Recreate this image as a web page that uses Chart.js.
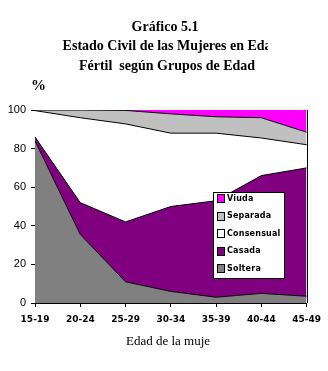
<!DOCTYPE html>
<html>
<head>
<meta charset="utf-8">
<script src="https://cdn.jsdelivr.net/npm/chart.js@4.4.1/dist/chart.umd.min.js"></script>
<style>
  html, body { margin: 0; padding: 0; background: #fff; }
  #wrap { width: 328px; height: 371px; position: relative; }
</style>
</head>
<body>
<div id="wrap"><canvas id="c" width="328" height="371"></canvas></div>
<script>
// Age groups (x categories)
const ageGroups = ['15-19', '20-24', '25-29', '30-34', '35-39', '40-44', '45-49'];

// Marital status shares, percent of women in each age group
const soltera    = [84.0, 35.5, 11.0,  6.0,  3.0,  5.0,  3.5];
const casada     = [ 2.0, 16.5, 31.0, 44.0, 50.0, 61.0, 66.5];
const consensual = [13.7, 44.0, 50.8, 38.0, 35.0, 19.5, 12.0];
const separada   = [ 0.3,  4.0,  7.0, 10.0,  8.5, 10.5,  6.5];
const viuda      = [ 0.0,  0.0,  0.2,  2.0,  3.5,  4.0, 11.5];

const yTicks = [0, 20, 40, 60, 80, 100];

const titleLines = ['Gráfico 5.1', 'Estado Civil de las Mujeres en Edad', 'Fértil  según Grupos de Edad'];
const yUnit = '%';
const xTitle = 'Edad de la muje';

const series = [
  { label: 'Soltera',    data: soltera,    color: '#808080', line: '#000000' },
  { label: 'Casada',     data: casada,     color: '#800080', line: '#000000' },
  { label: 'Consensual', data: consensual, color: '#ffffff', line: '#000000' },
  { label: 'Separada',   data: separada,   color: '#c0c0c0', line: '#000000' },
  { label: 'Viuda',      data: viuda,      color: '#ff00ff', line: '#ff00ff' }
];

// Titles, axis caption, right frame edge and the boxed legend
const decorations = {
  id: 'decorations',
  afterDraw(chart) {
    const ctx = chart.ctx;
    const area = chart.chartArea;
    ctx.save();

    // right edge of the plot frame
    ctx.strokeStyle = '#000';
    ctx.lineWidth = 1;
    ctx.beginPath();
    ctx.moveTo(Math.round(area.right) + 0.5, area.top);
    ctx.lineTo(Math.round(area.right) + 0.5, area.bottom);
    ctx.stroke();

    // title block, clipped on the right
    ctx.save();
    ctx.beginPath();
    ctx.rect(0, 0, 268, 100);
    ctx.clip();
    ctx.fillStyle = '#000';
    ctx.font = 'bold 14px "Liberation Serif", serif';
    ctx.textAlign = 'center';
    ctx.textBaseline = 'alphabetic';
    ctx.fillText(titleLines[0], 165, 31);
    ctx.fillText(titleLines[1], 171, 50);
    ctx.fillText(titleLines[2], 167, 70);
    ctx.restore();

    // unit label
    ctx.fillStyle = '#000';
    ctx.font = 'bold 15px "Liberation Serif", serif';
    ctx.textAlign = 'left';
    ctx.textBaseline = 'alphabetic';
    ctx.fillText(yUnit, 31, 90);

    // x axis caption
    ctx.font = '13px "Liberation Serif", serif';
    ctx.textAlign = 'center';
    ctx.fillText(xTitle, 168, 345);

    // legend box
    const lx = 213, ly = 192, lw = 71, lh = 86;
    ctx.fillStyle = '#fff';
    ctx.fillRect(lx, ly, lw, lh);
    ctx.strokeStyle = '#000';
    ctx.strokeRect(lx + 0.5, ly + 0.5, lw, lh);
    ctx.font = 'bold 8px "DejaVu Sans", sans-serif';
    ctx.letterSpacing = '0.2px';
    ctx.textAlign = 'left';
    ctx.textBaseline = 'middle';
    const items = chart.data.datasets.slice().reverse();
    items.forEach((ds, i) => {
      const cy = ly + 6.5 + i * 17.5;
      const top = Math.round(cy - 3.5);
      ctx.fillStyle = ds.backgroundColor;
      ctx.fillRect(lx + 5, top, 6, 7);
      ctx.strokeStyle = '#000';
      ctx.strokeRect(lx + 4.5, top - 0.5, 7, 8);
      ctx.fillStyle = '#000';
      ctx.fillText(ds.label, lx + 14, cy);
    });
    ctx.restore();
  }
};

const datasets = series.map((s, i) => ({
  label: s.label,
  data: s.data,
  backgroundColor: s.color,
  borderColor: s.line,
  borderWidth: 1,
  pointRadius: 0,
  tension: 0,
  fill: i === 0 ? 'origin' : '-1'
}));

new Chart(document.getElementById('c'), {
  type: 'line',
  data: { labels: ageGroups, datasets },
  options: {
    responsive: false,
    animation: false,
    devicePixelRatio: 1,
    layout: { padding: { top: 110, right: 20, left: 0, bottom: 0 } },
    plugins: {
      legend: { display: false },
      title: { display: false },
      tooltip: { enabled: false }
    },
    scales: {
      x: {
        offset: false,
        grid: { drawOnChartArea: false, drawTicks: true, tickLength: 4, color: '#000' },
        border: { color: '#000' },
        ticks: {
          color: '#000',
          font: { family: '"DejaVu Sans", sans-serif', size: 9, weight: 'bold' },
          padding: 7,
          maxRotation: 0,
          autoSkip: false
        },
        afterFit(scale) { scale.height = 68; }
      },
      y: {
        stacked: true,
        min: 0,
        max: 100,
        afterBuildTicks(scale) { scale.ticks = yTicks.map(v => ({ value: v })); },
        grid: { drawOnChartArea: false, drawTicks: true, tickLength: 4, color: '#000' },
        border: { color: '#000' },
        ticks: {
          color: '#000',
          font: { family: '"Liberation Sans", Arial, sans-serif', size: 11 },
          padding: 5
        },
        afterFit(scale) { scale.width = 35; }
      }
    }
  },
  plugins: [decorations]
});
</script>
</body>
</html>
